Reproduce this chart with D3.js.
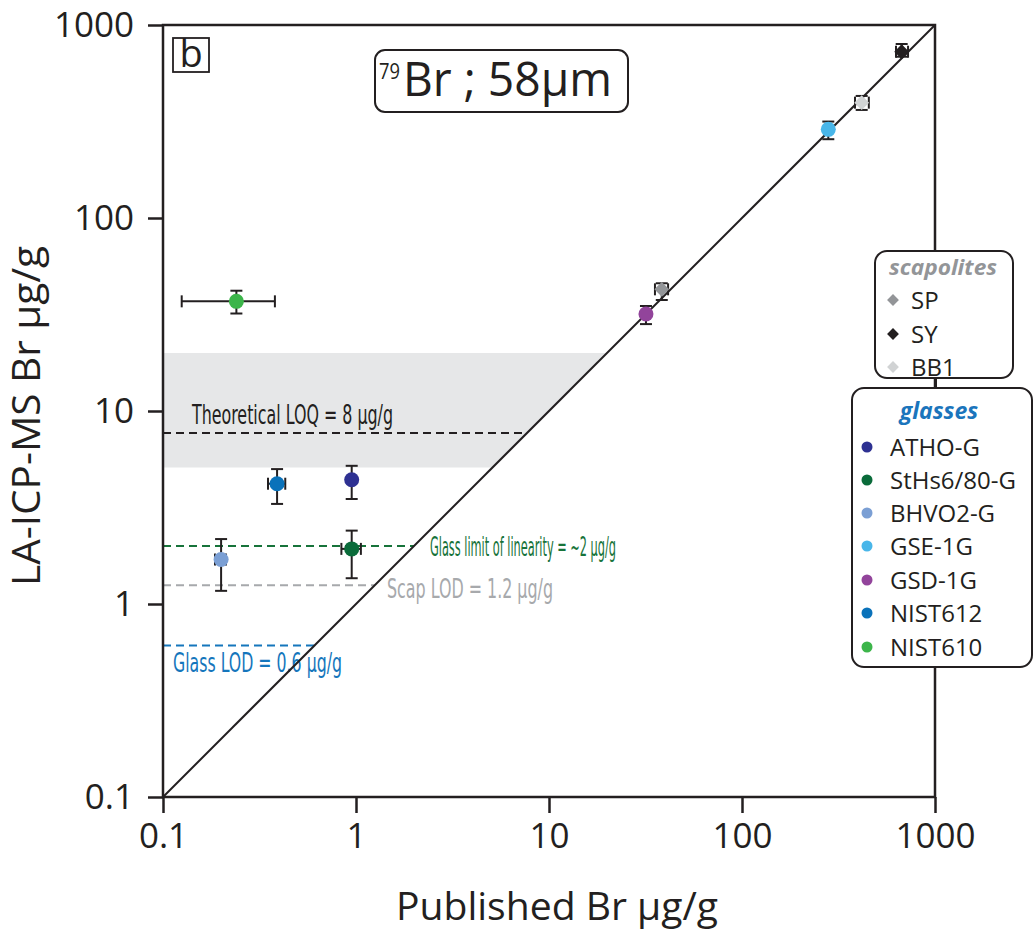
<!DOCTYPE html>
<html>
<head>
<meta charset="utf-8">
<script src="https://cdn.jsdelivr.net/npm/d3@7"></script>
<style>
  body { margin: 0; background: #fff; }
  svg { display: block; }
  .reg { font-family: "Open Sans", "Noto Sans", sans-serif; }
  .narrow { font-family: "Liberation Sans Narrow", "DejaVu Sans Condensed", sans-serif; }
</style>
</head>
<body>
<div class="chart"></div>
<script>
const svgWidth = 1035;
const svgHeight = 934;

// plot box in pixels
const plot = { left: 163, right: 935, top: 25, bottom: 797 };

const ink = '#231f20';

// samples (published vs LA-ICP-MS measured Br, ug/g)
const sampleNames = ['NIST610', 'NIST612', 'ATHO-G', 'StHs6/80-G', 'BHVO2-G', 'GSD-1G', 'SP', 'GSE-1G', 'BB1', 'SY'];
const sampleType = ['glass', 'glass', 'glass', 'glass', 'glass', 'glass', 'scap', 'glass', 'scap', 'scap'];
const publishedBr = [0.24, 0.39, 0.95, 0.95, 0.2, 31.8, 38.4, 280, 417, 672];
const measuredBr = [37, 4.2, 4.4, 1.93, 1.7, 31.8, 42.7, 288, 396, 727];
const measuredLow = [32, 3.3, 3.5, 1.36, 1.17, 28.2, 37.6, 256, 363, 685];
const measuredHigh = [42, 5.0, 5.2, 2.4, 2.17, 35, 45.9, 316, 429, 797];
const publishedLow = [0.125, 0.35, null, 0.84, 0.186, null, 35.4, null, 385, 628];
const publishedHigh = [0.38, 0.43, null, 1.06, 0.212, null, 41.4, null, 454, 725];

// legend entries
const scapNames = ['SP', 'SY', 'BB1'];
const scapColors = ['#939598', '#231f20', '#d1d3d4'];
const glassNames = ['ATHO-G', 'StHs6/80-G', 'BHVO2-G', 'GSE-1G', 'GSD-1G', 'NIST612', 'NIST610'];
const glassColors = ['#2e3192', '#0a6b3a', '#7b9fd4', '#49b6e9', '#92449b', '#0a72ba', '#3cb54a'];

// reference levels
const levelNames = ['Theoretical LOQ = 8 \u00b5g/g', 'Glass limit of linearity = ~2 \u00b5g/g', 'Scap LOD = 1.2 \u00b5g/g', 'Glass LOD = 0.6 \u00b5g/g'];
const levelValues = [7.7, 2.0, 1.25, 0.61];
const levelColors = ['#231f20', '#17733a', '#a7a9ac', '#1576bc'];

// quantification band
const bandLow = 5.1;
const bandHigh = 20;

const tickValues = [0.1, 1, 10, 100, 1000];
const tickLabels = ['0.1', '1', '10', '100', '1000'];

const colorOf = name => {
  const g = glassNames.indexOf(name);
  if (g >= 0) return glassColors[g];
  return scapColors[scapNames.indexOf(name)];
};

const svg = d3.select('.chart')
  .append('svg')
  .attr('width', svgWidth)
  .attr('height', svgHeight);

const x = d3.scaleLog().domain([0.1, 1000]).range([plot.left, plot.right]);
const y = d3.scaleLog().domain([0.1, 1000]).range([plot.bottom, plot.top]);

// grey band, clipped by the 1:1 line
svg.append('path')
  .attr('d', d3.line()([
    [x(0.1), y(bandLow)], [x(0.1), y(bandHigh)],
    [x(bandHigh), y(bandHigh)], [x(bandLow), y(bandLow)]
  ]))
  .attr('fill', '#e6e7e8');

// dashed reference lines, each stopping at the 1:1 line
svg.selectAll('.level')
  .data(levelValues)
  .enter()
  .append('line')
  .attr('x1', x(0.1))
  .attr('x2', d => x(d))
  .attr('y1', d => y(d))
  .attr('y2', d => y(d))
  .attr('stroke', (d, i) => levelColors[i])
  .attr('stroke-width', 2)
  .attr('stroke-dasharray', '8,5');

// level labels
const levelLabelPos = [
  { x: 192, y: 424, w: 201 },
  { x: 430, y: 556, w: 186 },
  { x: 387, y: 598, w: 166 },
  { x: 173, y: 672, w: 169 }
];
svg.selectAll('.level-label')
  .data(levelNames)
  .enter()
  .append('text')
  .attr('class', 'narrow')
  .attr('x', (d, i) => levelLabelPos[i].x)
  .attr('y', (d, i) => levelLabelPos[i].y)
  .attr('textLength', (d, i) => levelLabelPos[i].w)
  .attr('lengthAdjust', 'spacingAndGlyphs')
  .attr('font-size', 26)
  .attr('fill', (d, i) => i === 0 ? '#231f20' : levelColors[i])
  .text(d => d);

// 1:1 line
svg.append('line')
  .attr('x1', x(0.1)).attr('y1', y(0.1))
  .attr('x2', x(1000)).attr('y2', y(1000))
  .attr('stroke', ink)
  .attr('stroke-width', 2);

// frame
svg.append('rect')
  .attr('x', plot.left).attr('y', plot.top)
  .attr('width', plot.right - plot.left)
  .attr('height', plot.bottom - plot.top)
  .attr('fill', 'none')
  .attr('stroke', ink)
  .attr('stroke-width', 2.5);

// axes
const bottomAxis = d3.axisBottom(x)
  .tickValues(tickValues)
  .tickFormat((d, i) => tickLabels[i])
  .tickSize(16)
  .tickSizeOuter(0)
  .tickPadding(10);
const leftAxis = d3.axisLeft(y)
  .tickValues(tickValues)
  .tickFormat((d, i) => tickLabels[i])
  .tickSize(15)
  .tickSizeOuter(0)
  .tickPadding(14);

const xAxisG = svg.append('g')
  .attr('transform', `translate(0, ${plot.bottom})`)
  .call(bottomAxis);
const yAxisG = svg.append('g')
  .attr('transform', `translate(${plot.left}, 0)`)
  .call(leftAxis);

[xAxisG, yAxisG].forEach(g => {
  g.select('.domain').remove();
  g.selectAll('line').attr('stroke', ink).attr('stroke-width', 2.5);
  g.selectAll('text')
    .attr('class', 'reg')
    .attr('font-family', null)
    .attr('font-size', 35)
    .attr('fill', ink);
});

// axis titles
svg.append('text')
  .attr('class', 'reg')
  .attr('x', 557)
  .attr('y', 920)
  .attr('text-anchor', 'middle')
  .attr('font-size', 38)
  .attr('textLength', 322)
  .attr('lengthAdjust', 'spacingAndGlyphs')
  .attr('fill', ink)
  .text('Published Br \u00b5g/g');

svg.append('text')
  .attr('class', 'reg')
  .attr('transform', 'translate(40, 416) rotate(-90)')
  .attr('text-anchor', 'middle')
  .attr('font-size', 38)
  .attr('textLength', 340)
  .attr('lengthAdjust', 'spacingAndGlyphs')
  .attr('fill', ink)
  .text('LA-ICP-MS Br \u00b5g/g');

// error bars
const cap = 6;
const points = sampleNames.map((name, i) => ({
  name: name,
  type: sampleType[i],
  px: publishedBr[i],
  py: measuredBr[i],
  yLo: measuredLow[i],
  yHi: measuredHigh[i],
  xLo: publishedLow[i],
  xHi: publishedHigh[i]
}));

const errG = svg.append('g')
  .attr('stroke', ink)
  .attr('stroke-width', 2);

points.forEach(d => {
  const cx = x(d.px);
  const cy = y(d.py);
  errG.append('line').attr('x1', cx).attr('x2', cx).attr('y1', y(d.yLo)).attr('y2', y(d.yHi));
  errG.append('line').attr('x1', cx - cap).attr('x2', cx + cap).attr('y1', y(d.yLo)).attr('y2', y(d.yLo));
  errG.append('line').attr('x1', cx - cap).attr('x2', cx + cap).attr('y1', y(d.yHi)).attr('y2', y(d.yHi));
  if (d.xLo !== null) {
    errG.append('line').attr('x1', x(d.xLo)).attr('x2', x(d.xHi)).attr('y1', cy).attr('y2', cy);
    errG.append('line').attr('x1', x(d.xLo)).attr('x2', x(d.xLo)).attr('y1', cy - cap).attr('y2', cy + cap);
    errG.append('line').attr('x1', x(d.xHi)).attr('x2', x(d.xHi)).attr('y1', cy - cap).attr('y2', cy + cap);
  }
});

// markers
const diamond = d3.symbol().type(d3.symbolSquare).size(110);
svg.selectAll('.glass')
  .data(points.filter(d => d.type === 'glass'))
  .enter()
  .append('circle')
  .attr('cx', d => x(d.px))
  .attr('cy', d => y(d.py))
  .attr('r', 7.5)
  .attr('fill', d => colorOf(d.name));

svg.selectAll('.scap')
  .data(points.filter(d => d.type === 'scap'))
  .enter()
  .append('path')
  .attr('d', diamond)
  .attr('transform', d => `translate(${x(d.px)}, ${y(d.py)}) rotate(45)`)
  .attr('fill', d => colorOf(d.name));

// panel letter
svg.append('rect')
  .attr('x', 173).attr('y', 38)
  .attr('width', 36).attr('height', 34)
  .attr('fill', '#fff')
  .attr('stroke', ink)
  .attr('stroke-width', 1.8);
svg.append('text')
  .attr('class', 'reg')
  .attr('x', 191).attr('y', 67)
  .attr('text-anchor', 'middle')
  .attr('font-size', 38)
  .attr('fill', ink)
  .text('b');

// title box
svg.append('rect')
  .attr('x', 375).attr('y', 50)
  .attr('width', 253).attr('height', 62)
  .attr('rx', 10)
  .attr('fill', '#fff')
  .attr('stroke', ink)
  .attr('stroke-width', 2);
svg.append('text')
  .attr('class', 'reg')
  .attr('x', 379).attr('y', 79)
  .attr('font-size', 22)
  .attr('textLength', 21)
  .attr('lengthAdjust', 'spacingAndGlyphs')
  .attr('fill', ink)
  .text('79');
svg.append('text')
  .attr('class', 'reg')
  .attr('x', 403).attr('y', 96)
  .attr('font-size', 48)
  .attr('textLength', 209)
  .attr('lengthAdjust', 'spacingAndGlyphs')
  .attr('fill', ink)
  .text('Br ; 58\u00b5m');

// legends
svg.append('line')
  .attr('x1', 936).attr('x2', 936)
  .attr('y1', 378).attr('y2', 388)
  .attr('stroke', ink).attr('stroke-width', 2);

svg.append('rect')
  .attr('x', 875).attr('y', 251)
  .attr('width', 138).attr('height', 127)
  .attr('rx', 12)
  .attr('fill', '#fff')
  .attr('stroke', ink)
  .attr('stroke-width', 2);
svg.append('text')
  .attr('class', 'reg')
  .attr('x', 943).attr('y', 275)
  .attr('text-anchor', 'middle')
  .attr('font-size', 22)
  .attr('font-weight', 'bold')
  .attr('font-style', 'italic')
  .attr('textLength', 108)
  .attr('lengthAdjust', 'spacingAndGlyphs')
  .attr('fill', '#939598')
  .text('scapolites');

const scapY = [300, 334, 367];
const legendDiamond = d3.symbol().type(d3.symbolSquare).size(70);
scapNames.forEach((name, i) => {
  svg.append('path')
    .attr('d', legendDiamond)
    .attr('transform', `translate(893, ${scapY[i]}) rotate(45)`)
    .attr('fill', scapColors[i]);
  svg.append('text')
    .attr('class', 'reg')
    .attr('x', 911).attr('y', scapY[i] + 9)
    .attr('font-size', 24)
    .attr('fill', ink)
    .text(name);
});

svg.append('rect')
  .attr('x', 852).attr('y', 388)
  .attr('width', 180).attr('height', 279)
  .attr('rx', 12)
  .attr('fill', '#fff')
  .attr('stroke', ink)
  .attr('stroke-width', 2);
svg.append('text')
  .attr('class', 'reg')
  .attr('x', 939).attr('y', 419)
  .attr('text-anchor', 'middle')
  .attr('font-size', 23)
  .attr('font-weight', 'bold')
  .attr('font-style', 'italic')
  .attr('fill', '#1b75bc')
  .text('glasses');

const glassY = [447, 480, 513, 546, 580, 613, 647];
glassNames.forEach((name, i) => {
  svg.append('circle')
    .attr('cx', 867).attr('cy', glassY[i])
    .attr('r', 5.5)
    .attr('fill', glassColors[i]);
  svg.append('text')
    .attr('class', 'reg')
    .attr('x', 890).attr('y', glassY[i] + 9)
    .attr('font-size', 24)
    .attr('fill', ink)
    .text(name);
});
</script>
</body>
</html>
